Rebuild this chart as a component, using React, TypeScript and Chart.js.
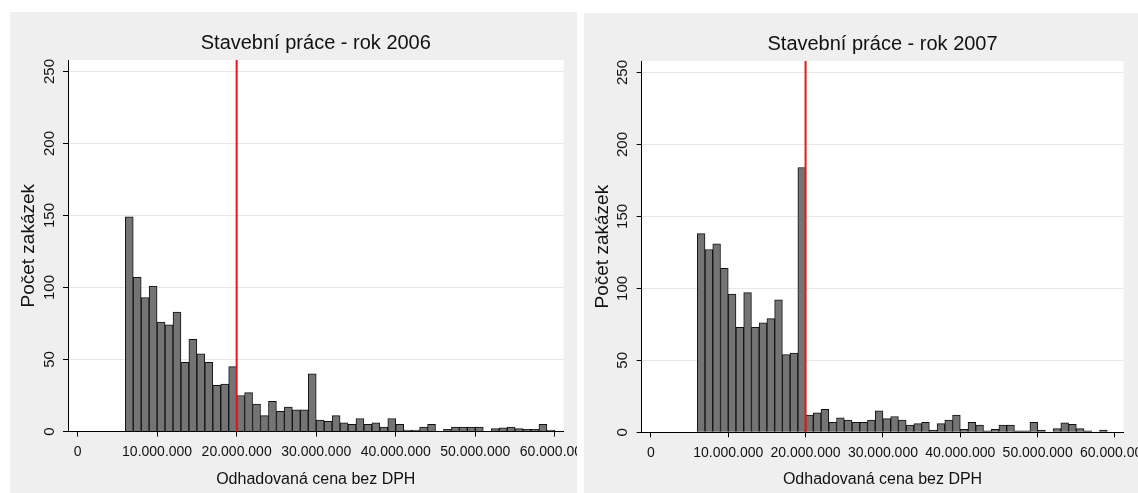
import React, { useEffect, useRef } from "react";
import { Chart, registerables } from "chart.js";

Chart.register(...registerables);

// ---------- data ----------
const BIN_STARTS_M = [
  6, 7, 8, 9, 10, 11, 12, 13, 14, 15, 16, 17, 18, 19, 20, 21, 22, 23, 24, 25, 26, 27, 28, 29,
  30, 31, 32, 33, 34, 35, 36, 37, 38, 39, 40, 41, 42, 43, 44, 45, 46, 47, 48, 49, 50, 51, 52,
  53, 54, 55, 56, 57, 58, 59,
];
const BIN_WIDTH_M = 1;

const COUNTS_2006 = [
  149, 107, 93, 101, 76, 74, 83, 48, 64, 54, 48, 32, 33, 45, 25, 27, 19, 11, 21, 14, 17, 15, 15, 40,
  8, 7, 11, 6, 5, 9, 5, 6, 3, 9, 5, 1, 1, 3, 5, 0, 1.5, 3, 3, 3, 3, 0, 2, 2.5, 3, 2, 1.5, 1.5, 5, 1,
];

const COUNTS_2007 = [
  138, 127, 131, 114, 96, 73, 97, 73, 76, 79, 92, 54, 55, 184, 12, 13.5, 16, 7, 10, 8.5, 7, 7, 8.5, 15,
  9.5, 11, 8.5, 5, 6, 7, 1.5, 6, 8.5, 12, 2, 7, 5, 1, 2, 5, 5, 1, 1, 7, 1.5, 0, 2.5, 6.5, 5.5, 2.5, 1, 0, 1.5, 0,
];

const X_TICKS = [0, 10000000, 20000000, 30000000, 40000000, 50000000, 60000000];
const Y_TICKS = [0, 50, 100, 150, 200, 250];
const X_MIN = -1200000;
const X_MAX = 61100000;
const Y_MAX = 258;
const THRESHOLD = 20000000;

const TITLE_2006 = "Stavební práce - rok 2006";
const TITLE_2007 = "Stavební práce - rok 2007";
const X_TITLE = "Odhadovaná cena bez DPH";
const Y_TITLE = "Počet zakázek";

// ---------- styling ----------
const FONT = "'Liberation Sans', Arial, Helvetica, sans-serif";
const TEXT = "#111111";
const PANEL_BG = "#efefef";

const fmt = (v: number) => String(Math.round(v)).replace(/\B(?=(\d{3})+(?!\d))/g, ".");

const plotBg = {
  id: "plotBg",
  beforeDraw(chart: any) {
    const { ctx, chartArea } = chart;
    ctx.save();
    ctx.fillStyle = "#ffffff";
    ctx.fillRect(chartArea.left, chartArea.top, chartArea.right - chartArea.left, chartArea.bottom - chartArea.top);
    ctx.restore();
  },
};

const thresholdLine = {
  id: "thresholdLine",
  afterDatasetsDraw(chart: any) {
    const { ctx, chartArea, scales } = chart;
    const x = scales.x.getPixelForValue(THRESHOLD);
    ctx.save();
    ctx.strokeStyle = "#e3171c";
    ctx.lineWidth = 2;
    ctx.beginPath();
    ctx.moveTo(x, chartArea.top);
    ctx.lineTo(x, chartArea.bottom);
    ctx.stroke();
    ctx.restore();
  },
};

type PanelProps = {
  title: string;
  counts: number[];
  left: number;
  top: number;
  width: number;
  height: number;
  yAxisWidth: number;
  xAxisHeight: number;
  padRight: number;
};

function Panel(p: PanelProps) {
  const ref = useRef<HTMLCanvasElement | null>(null);

  useEffect(() => {
    if (!ref.current) return;
    const data = BIN_STARTS_M.map((s, i) => ({ x: (s + BIN_WIDTH_M / 2) * 1e6, y: p.counts[i] }));
    const chart = new Chart(ref.current, {
      type: "bar",
      data: {
        datasets: [
          {
            data,
            backgroundColor: "#747474",
            borderColor: "#111111",
            borderWidth: 1,
            barPercentage: 1,
            categoryPercentage: 1,
          } as any,
        ],
      },
      options: {
        animation: false,
        responsive: false,
        devicePixelRatio: 1,
        layout: { padding: { left: 0, right: p.padRight, top: 0, bottom: 0 } },
        plugins: {
          legend: { display: false },
          tooltip: { enabled: false },
          title: {
            display: true,
            text: p.title,
            color: TEXT,
            font: { family: FONT, size: 20, weight: "normal" },
            padding: { top: 19, bottom: 5 },
            fullSize: false,
          } as any,
        },
        scales: {
          x: {
            type: "linear",
            min: X_MIN,
            max: X_MAX,
            offset: false,
            afterBuildTicks: (s: any) => {
              s.ticks = X_TICKS.map((v) => ({ value: v }));
            },
            afterFit: (s: any) => {
              s.height = p.xAxisHeight;
              s.paddingLeft = 0;
              s.paddingRight = 0;
            },
            grid: {
              offset: false,
              drawOnChartArea: false,
              drawTicks: true,
              tickLength: 5,
              tickColor: "#000",
              tickWidth: 1,
            },
            border: { display: true, color: "#000", width: 1 },
            ticks: {
              autoSkip: false,
              minRotation: 0,
              maxRotation: 0,
              padding: 7,
              color: TEXT,
              font: { family: FONT, size: 14 },
              callback: (v: any) => fmt(Number(v)),
            },
            title: {
              display: true,
              text: X_TITLE,
              color: TEXT,
              font: { family: FONT, size: 16 },
              padding: { top: 0, bottom: 4 },
            },
          } as any,
          y: {
            type: "linear",
            min: 0,
            max: Y_MAX,
            afterBuildTicks: (s: any) => {
              s.ticks = Y_TICKS.map((v) => ({ value: v }));
            },
            afterFit: (s: any) => {
              s.width = p.yAxisWidth;
              s.paddingTop = 0;
              s.paddingBottom = 0;
            },
            grid: {
              color: (ctx: any) => (ctx.tick && ctx.tick.value === 0 ? "rgba(0,0,0,0)" : "#e8e8e8"),
              lineWidth: 1,
              tickColor: "#000",
              tickLength: 5,
              tickWidth: 1,
            },
            border: { display: true, color: "#000", width: 1 },
            ticks: {
              minRotation: 90,
              maxRotation: 90,
              crossAlign: "center",
              padding: 1,
              color: TEXT,
              font: { family: FONT, size: 15 },
            },
            title: {
              display: true,
              text: Y_TITLE,
              color: TEXT,
              font: { family: FONT, size: 19 },
              padding: { top: 7, bottom: 0 },
            },
          } as any,
        },
      } as any,
      plugins: [plotBg, thresholdLine],
    });
    return () => chart.destroy();
  }, []);

  return (
    <div
      style={{
        position: "absolute",
        left: p.left,
        top: p.top,
        width: p.width,
        height: p.height,
        background: PANEL_BG,
        overflow: "hidden",
      }}
    >
      <canvas ref={ref} width={p.width} height={p.height} style={{ display: "block" }} />
    </div>
  );
}

export default function App() {
  return (
    <div
      style={{
        position: "fixed",
        left: 0,
        top: 0,
        width: 1138,
        height: 493,
        background: "#ffffff",
        overflow: "hidden",
      }}
    >
      <Panel
        title={TITLE_2006}
        counts={COUNTS_2006}
        left={10}
        top={12}
        width={567}
        height={481}
        yAxisWidth={58}
        xAxisHeight={61.5}
        padRight={13.4}
      />
      <Panel
        title={TITLE_2007}
        counts={COUNTS_2007}
        left={584}
        top={13}
        width={554}
        height={480}
        yAxisWidth={57.6}
        xAxisHeight={60.7}
        padRight={14.5}
      />
    </div>
  );
}
